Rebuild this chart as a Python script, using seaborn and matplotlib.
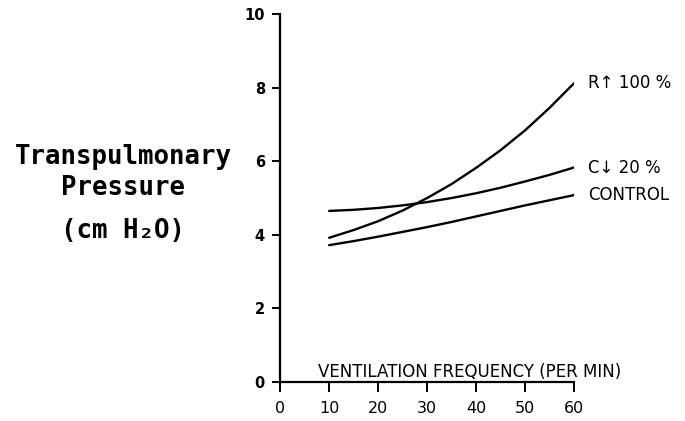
import matplotlib
matplotlib.use("Agg")
import matplotlib.pyplot as plt
import numpy as np
import pandas as pd
import seaborn as sns

# Ventilation frequency (breaths per minute)
freq = [10, 15, 20, 25, 30, 35, 40, 45, 50, 55, 60]

# Transpulmonary pressure (cm H2O) for each condition
control = [3.72, 3.83, 3.95, 4.08, 4.21, 4.35, 4.50, 4.65, 4.80, 4.94, 5.08]
c_down = [4.65, 4.68, 4.73, 4.80, 4.89, 5.00, 5.13, 5.28, 5.45, 5.63, 5.83]
r_up = [3.92, 4.13, 4.37, 4.66, 5.00, 5.38, 5.82, 6.30, 6.84, 7.45, 8.12]

series_names = ["CONTROL", "C\u2193 20 %", "R\u2191 100 %"]
x_ticks = [0, 10, 20, 30, 40, 50, 60]
y_ticks = [0, 2, 4, 6, 8, 10]

df = pd.DataFrame({
    "freq": freq * 3,
    "pressure": control + c_down + r_up,
    "series": [series_names[0]] * len(freq)
              + [series_names[1]] * len(freq)
              + [series_names[2]] * len(freq),
})

sns.set_style("ticks")
plt.rcParams["font.family"] = ["DejaVu Sans"]
plt.rcParams["text.color"] = "black"

fig = plt.figure(figsize=(6.85, 4.21), dpi=100)
ax = fig.add_axes([0.409, 0.0926, 0.429, 0.874])

sns.lineplot(data=df, x="freq", y="pressure", hue="series",
             palette=["black"] * 3, legend=False, linewidth=1.7, ax=ax)

ax.set_xlim(0, 60)
ax.set_ylim(0, 10)
ax.set_xticks(x_ticks)
ax.set_yticks(y_ticks)
ax.set_xticklabels([str(t) for t in x_ticks], fontsize=11.5)
ax.set_yticklabels([str(t) for t in y_ticks], fontsize=10.5, fontweight="bold")
ax.set_xlabel("")
ax.set_ylabel("")
sns.despine(ax=ax)
for side in ("left", "bottom"):
    ax.spines[side].set_linewidth(1.6)
    ax.spines[side].set_color("black")
ax.tick_params(axis="x", direction="out", length=7, width=1.4, pad=7,
               colors="black", labelcolor="black")
ax.tick_params(axis="y", direction="out", length=6, width=1.4, pad=5,
               colors="black", labelcolor="black")

# Axis title written along the frequency axis
ax.text(7.8, 0.27, "VENTILATION FREQUENCY (PER MIN)", fontsize=12,
        ha="left", va="center", clip_on=False, color="black")

# Curve labels at the end of each line
ends = {series_names[0]: control[-1], series_names[1]: c_down[-1],
        series_names[2]: r_up[-1]}
for name, yv in ends.items():
    ax.text(62.8, yv, name, fontsize=12, ha="left", va="center",
            clip_on=False, color="black")

# Vertical-axis title
mono = dict(family="DejaVu Sans Mono", fontweight="bold", fontsize=18.5,
            ha="center", va="center", color="black")
fig.text(0.180, 0.627, "Transpulmonary", **mono)
fig.text(0.180, 0.553, "Pressure", **mono)
fig.text(0.180, 0.452, "(cm H\u2082O)", **mono)

fig.savefig("out.png", dpi=100)
